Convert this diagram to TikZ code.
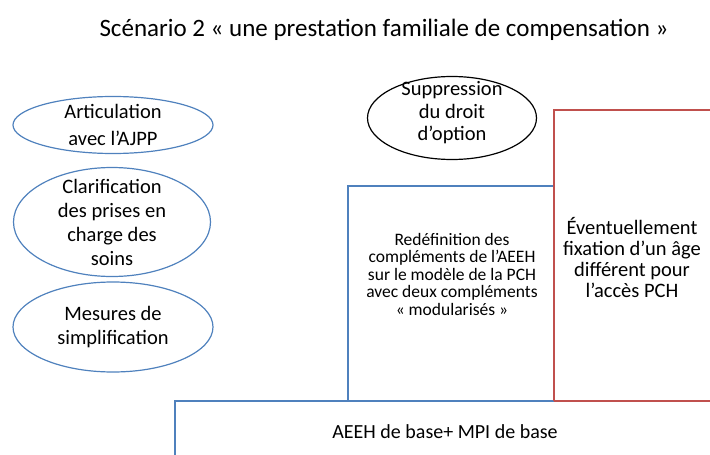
\documentclass[tikz,border=0pt]{standalone}
\usepackage{fontspec}
\setmainfont{Carlito}
\usetikzlibrary{shapes.geometric}
\definecolor{boxblue}{RGB}{79,129,189}
\definecolor{boxred}{RGB}{192,80,77}

\begin{document}
\begin{tikzpicture}[x=1pt,y=-1pt,
    blueline/.style={draw=boxblue, line width=1.2pt},
    redline/.style={draw=boxred, line width=1.2pt},
    ovaltext/.style={align=center, inner sep=0pt, font=\fontsize{20.5}{24}\selectfont},
    boxtext/.style={align=center, inner sep=0pt, font=\fontsize{17.5}{17.5}\selectfont},
    agetext/.style={align=center, inner sep=0pt, font=\fontsize{20.5}{21}\selectfont}]
                    \useasboundingbox (0,0) rectangle (710,455);
                    \node[font=\fontsize{25}{28}\selectfont] (titre) at (384,30) {Scénario 2 « une prestation familiale de compensation »};
                    % bulles de gauche
                    \node[ovaltext, font=\fontsize{20.5}{27}\selectfont] (ajpp) at (113,125) {Articulation\\avec l’AJPP};
                    \draw[blueline] (ajpp) ellipse (100pt and 28.5pt);
                    \node[ovaltext] (soins) at (112,222) {Clarification\\des prises en\\charge des\\soins};
                    \draw[blueline] (soins) ellipse (98.5pt and 54.5pt);
                    \node[ovaltext] (simpl) at (113,327) {Mesures de\\simplification};
                    \draw[blueline] (simpl) ellipse (100pt and 45pt);
                    \node[ovaltext, font=\fontsize{20.5}{22.5}\selectfont] (option) at (452,113) {Suppression\\du droit\\d’option};
                    \draw[line width=1.2pt] (452,118) ellipse (84.5pt and 41.5pt);
                    % marches
                    \draw[blueline] (175,455) -- (175,401) -- (710,401);
                    \draw[blueline] (348,401) -- (348,186) -- (554,186);
                    \draw[redline] (554,401) -- (554,110) -- (710,110);
                    \draw[redline] (554,401) -- (710,401);
                    \node[boxtext] (redef) at (452,274) {Redéfinition des\\compléments de l’AEEH\\sur le modèle de la PCH\\avec deux compléments\\« modularisés »};
                    \node[agetext] (age) at (632,258) {Éventuellement\\fixation d’un âge\\différent pour\\l’accès PCH};
                    \node[font=\fontsize{20}{22}\selectfont] (base) at (445,432) {AEEH de base+ MPI de base};
                \end{tikzpicture}
\end{document}
